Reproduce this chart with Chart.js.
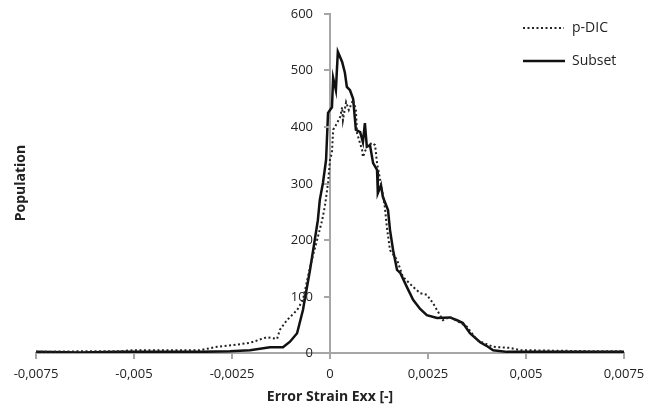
<!DOCTYPE html>
<html lang="en">
<head>
    <meta charset="UTF-8">
    <title>Error Strain Exx</title>
    <script src="https://cdn.jsdelivr.net/npm/chart.js@4.4.1/dist/chart.umd.min.js"></script>
    <style>
        html, body { margin: 0; padding: 0; background: #fff; }
        #wrap { width: 656px; height: 416px; }
    </style>
</head>
<body>
<div id="wrap"><canvas id="chart" width="656" height="416"></canvas></div>
<script>
    // values
    var seriesNames = ["p-DIC", "Subset"];
    var xTicks = [-0.0075, -0.005, -0.0025, 0, 0.0025, 0.005, 0.0075];
    var yTicks = [0, 100, 200, 300, 400, 500, 600];

    var subsetX = [-0.0075, -0.00638, -0.00536, -0.00434, -0.00332, -0.00255, -0.00204, -0.00153, -0.0012, -0.00102,
        -0.00084, -0.00069, -0.00051, -0.00043, -0.00031, -0.00026, -0.00018, -0.0001, -0.00005, 0.00005,
        0.00008, 0.00015, 0.0002, 0.00031, 0.00038, 0.00043, 0.00051, 0.00059, 0.00066, 0.00077,
        0.00084, 0.00089, 0.00094, 0.00102, 0.0011, 0.0012, 0.00122, 0.0013, 0.00135, 0.00148,
        0.00153, 0.00161, 0.00171, 0.00179, 0.00196, 0.00212, 0.0023, 0.00247, 0.00273, 0.00306,
        0.00324, 0.00339, 0.00357, 0.00383, 0.00403, 0.00416, 0.00452, 0.00536, 0.00638, 0.0075];
    var subsetY = [2, 1, 2, 2, 2, 3, 5, 10, 10, 20,
        35, 76, 147, 182, 235, 271, 301, 342, 425, 435,
        487, 465, 533, 515, 496, 471, 465, 450, 395, 391,
        373, 407, 365, 368, 336, 324, 283, 297, 276, 253,
        218, 182, 147, 142, 117, 94, 78, 67, 62, 63,
        58, 53, 35, 19, 11, 5, 2, 2, 2, 2];

    var pdicX = [-0.0075, -0.00638, -0.00536, -0.00503, -0.00416, -0.00332, -0.00288, -0.00247, -0.00204, -0.00161,
        -0.00135, -0.00128, -0.0011, -0.00084, -0.00069, -0.00051, -0.00033, -0.0002, -0.00013, -0.00005,
        0, 0.00005, 0.00008, 0.00018, 0.00026, 0.00031, 0.00033, 0.00041, 0.00048, 0.00059,
        0.00066, 0.00069, 0.00082, 0.00084, 0.00094, 0.00107, 0.00115, 0.0012, 0.00133, 0.0014,
        0.00145, 0.00153, 0.00171, 0.00186, 0.00212, 0.0023, 0.00247, 0.00263, 0.00288, 0.00306,
        0.0035, 0.00375, 0.00416, 0.00459, 0.00485, 0.00587, 0.00689, 0.0075];
    var pdicY = [2, 3, 3, 5, 5, 5, 11, 14, 18, 28,
        25, 41, 58, 76, 94, 152, 200, 235, 260, 301,
        342, 354, 395, 407, 418, 435, 412, 444, 430, 448,
        430, 389, 359, 347, 365, 372, 368, 336, 288, 258,
        223, 182, 165, 135, 117, 106, 103, 88, 58, 64,
        46, 23, 11, 9, 5, 4, 3, 3];

    function toPoints(xs, ys) {
        return xs.map(function (x, i) { return {x: x, y: ys[i]}; });
    }

    function fmt(v) {
        var s = Number(v.toFixed(4)).toString();
        if (s === "-0") s = "0";
        return s.replace(".", ",");
    }

    var axisColor = "#a6a6a6";
    var fontFamily = "'Open Sans', 'Liberation Sans', sans-serif";

    // y labels left of the centred axis, legend and y title
    var extras = {
        id: "extras",
        afterDraw: function (chart) {
            var ctx = chart.ctx;
            var xs = chart.scales.x, ys = chart.scales.y;
            var ax = Math.round(xs.getPixelForValue(0));
            ctx.save();
            ctx.strokeStyle = axisColor;
            ctx.lineWidth = 2;
            ctx.fillStyle = "#222";
            ctx.font = "13px " + fontFamily;
            ctx.textAlign = "right";
            ctx.textBaseline = "middle";
            yTicks.forEach(function (v) {
                var py = Math.round(ys.getPixelForValue(v));
                ctx.beginPath();
                ctx.moveTo(ax, py);
                ctx.lineTo(ax - 6, py);
                ctx.stroke();
                ctx.fillText(String(v), ax - 17, py);
            });

            ctx.strokeStyle = "#222";
            ctx.lineWidth = 2;
            ctx.setLineDash([2, 2.5]);
            ctx.beginPath();
            ctx.moveTo(523, 28);
            ctx.lineTo(564, 28);
            ctx.stroke();
            ctx.setLineDash([]);
            ctx.lineWidth = 2.5;
            ctx.strokeStyle = "#111";
            ctx.beginPath();
            ctx.moveTo(523, 61);
            ctx.lineTo(565, 61);
            ctx.stroke();
            ctx.font = "14px " + fontFamily;
            ctx.textAlign = "left";
            ctx.fillText(seriesNames[0], 572, 28);
            ctx.fillText(seriesNames[1], 572, 61);

            ctx.translate(21, 183);
            ctx.rotate(-Math.PI / 2);
            ctx.font = "bold 14px " + fontFamily;
            ctx.textAlign = "center";
            ctx.fillText("Population", 0, 0);
            ctx.restore();
        }
    };

    var ctx = document.getElementById("chart").getContext("2d");
    var chart = new Chart(ctx, {
        type: "line",
        data: {
            datasets: [{
                label: seriesNames[0],
                data: toPoints(pdicX, pdicY),
                borderColor: "#222",
                borderWidth: 2,
                borderDash: [2, 2.5],
                pointRadius: 0,
                tension: 0,
                fill: false
            }, {
                label: seriesNames[1],
                data: toPoints(subsetX, subsetY),
                borderColor: "#111",
                borderWidth: 2.5,
                pointRadius: 0,
                tension: 0,
                fill: false
            }]
        },
        options: {
            responsive: false,
            animation: false,
            layout: {padding: {left: 36, right: 32, top: 14, bottom: 10}},
            plugins: {
                legend: {display: false},
                tooltip: {enabled: false}
            },
            scales: {
                x: {
                    type: "linear",
                    position: "bottom",
                    min: -0.0075,
                    max: 0.0075,
                    afterBuildTicks: function (scale) {
                        scale.ticks = xTicks.map(function (v) { return {value: v}; });
                    },
                    afterFit: function (scale) { scale.height = 53; },
                    ticks: {
                        color: "#222",
                        font: {family: fontFamily, size: 13},
                        padding: 7,
                        maxRotation: 0,
                        autoSkip: false,
                        callback: function (v) { return fmt(v); }
                    },
                    grid: {drawOnChartArea: false, drawTicks: true, tickLength: 6, color: axisColor, lineWidth: 2},
                    border: {color: axisColor, width: 2},
                    title: {
                        display: true,
                        text: "Error Strain Exx [-]",
                        color: "#222",
                        font: {family: fontFamily, size: 14, weight: "bold"},
                        padding: {top: 0, bottom: 1}
                    }
                },
                y: {
                    type: "linear",
                    position: {x: 0},
                    min: 0,
                    max: 600,
                    afterBuildTicks: function (scale) {
                        scale.ticks = yTicks.map(function (v) { return {value: v}; });
                    },
                    ticks: {display: false},
                    grid: {display: false},
                    border: {display: true, color: axisColor, width: 2}
                }
            }
        },
        plugins: [extras]
    });
</script>
</body>
</html>
